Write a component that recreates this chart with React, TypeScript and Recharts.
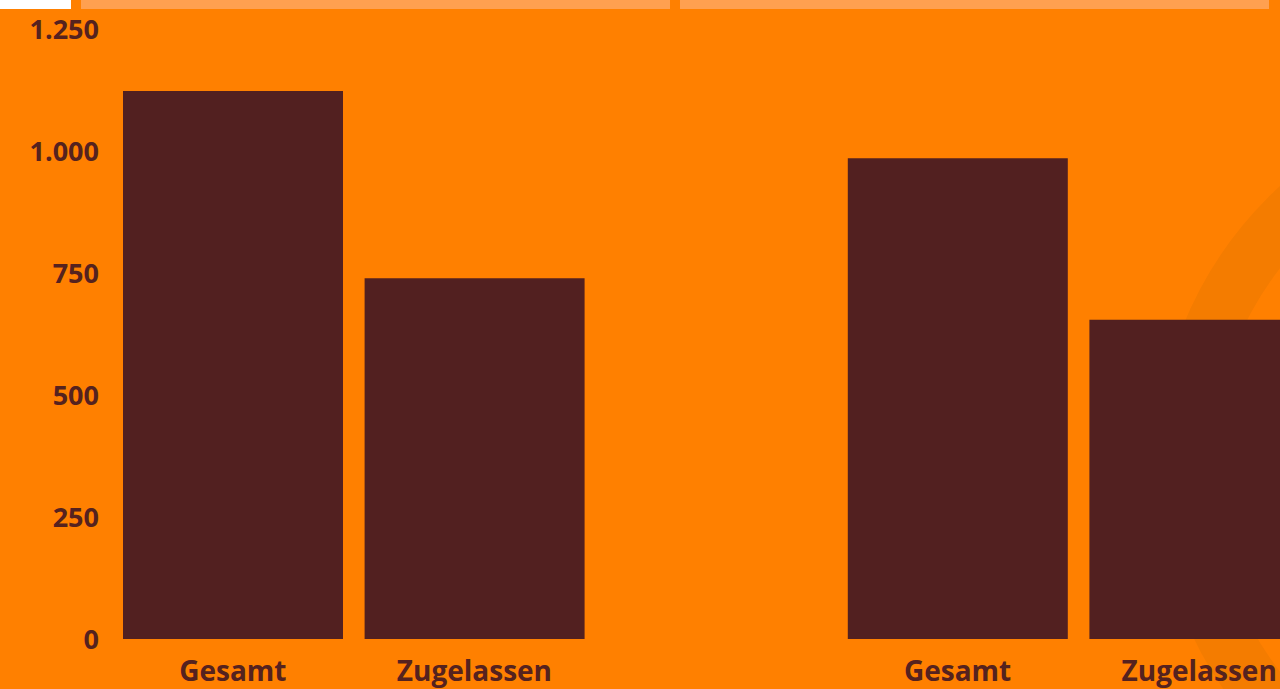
import React from 'react';
import { BarChart, Bar, XAxis, YAxis } from 'recharts';

const categories = ['Gesamt', 'Zugelassen', '', 'Gesamt', 'Zugelassen'];
const values = [1123, 739, null, 985, 654];
const yTicks = [0, 250, 500, 750, 1000, 1250];

const data = categories.map((label, i) => ({ id: i, label, value: values[i] }));

const formatDe = (v: number) => String(v).replace(/\B(?=(\d{3})+(?!\d))/g, '.');

const BG = '#FF8000';
const BAR = '#522020';
const TEXT = '#55221F';
const STRIP = '#FFA050';

export default function App() {
  return (
    <div
      style={{
        position: 'absolute',
        top: 0,
        left: 0,
        width: 1280,
        height: 689,
        overflow: 'hidden',
        background: BG,
        fontFamily: '"Open Sans", sans-serif',
      }}
    >
      <svg width={1280} height={689} style={{ position: 'absolute', top: 0, left: 0 }}>
        <circle cx={1540} cy={470} r={357} fill="none" stroke="#F47C00" strokeWidth={56} />
      </svg>

      <div style={{ position: 'absolute', top: 0, left: 0 }}>
        <BarChart
          width={1320}
          height={689}
          data={data}
          margin={{ top: 29, right: 0, bottom: 0, left: 0 }}
          barSize={220}
        >
          <XAxis
            dataKey="id"
            height={50}
            axisLine={false}
            tickLine={false}
            tickSize={0}
            tickMargin={22}
            interval={0}
            tickFormatter={(i: number) => categories[i]}
            tick={{ fill: TEXT, fontSize: 28, fontWeight: 700 }}
          />
          <YAxis
            width={112}
            domain={[0, 1250]}
            ticks={yTicks}
            axisLine={false}
            tickLine={false}
            tickSize={0}
            tickMargin={13}
            tickFormatter={formatDe}
            tick={{ fill: TEXT, fontSize: 27, fontWeight: 700 }}
          />
          <Bar dataKey="value" fill={BAR} isAnimationActive={false} />
        </BarChart>
      </div>

      <div style={{ position: 'absolute', top: 0, left: 0, width: 71, height: 9, background: '#FFFFFF' }} />
      <div style={{ position: 'absolute', top: 0, left: 81, width: 589, height: 9, background: STRIP }} />
      <div style={{ position: 'absolute', top: 0, left: 680, width: 589, height: 9, background: STRIP }} />
    </div>
  );
}
